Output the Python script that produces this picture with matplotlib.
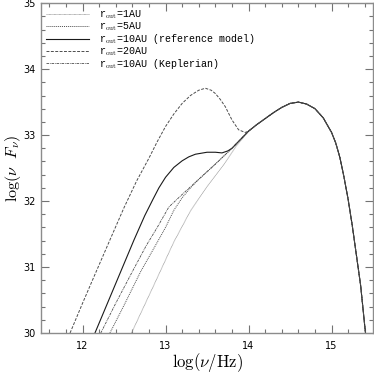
import matplotlib
matplotlib.use('Agg')
import matplotlib.pyplot as plt
from matplotlib.ticker import MultipleLocator
import numpy as np

plt.rcParams['mathtext.fontset'] = 'cm'

# common part of all SEDs (nu >= ~13)
tail_nu = [13.04, 13.2, 13.4, 13.6, 13.8, 13.9, 14.0, 14.1, 14.2, 14.3, 14.4, 14.5,
           14.6, 14.7, 14.8, 14.9, 15.0, 15.05, 15.1, 15.15, 15.2, 15.25, 15.3,
           15.35, 15.4, 15.43]
tail_f = [31.91, 32.1, 32.33, 32.56, 32.8, 32.93, 33.06, 33.16, 33.25, 33.34, 33.42, 33.48,
          33.50, 33.47, 33.40, 33.26, 33.04, 32.88, 32.66, 32.36, 32.02, 31.62, 31.17,
          30.72, 30.1, 29.75]

# r_out = 1 AU
nu_1 = [12.59, 12.85, 13.1, 13.3, 13.5, 13.7, 13.85, 14.0]
f_1 = [30.0, 30.7, 31.38, 31.85, 32.22, 32.55, 32.83, 33.06]

# r_out = 5 AU
nu_5 = [12.33, 12.5, 12.7, 12.88, 13.0, 13.1, 13.2, 13.3, 13.4]
f_5 = [30.0, 30.42, 30.93, 31.33, 31.6, 31.86, 32.05, 32.2, 32.33]

# r_out = 10 AU (reference model)
nu_10 = [12.15, 12.3, 12.45, 12.62, 12.75, 12.85, 12.92, 13.0, 13.1, 13.2, 13.28,
         13.36, 13.5, 13.6, 13.68, 13.75, 13.8]
f_10 = [30.0, 30.45, 30.9, 31.41, 31.78, 32.03, 32.2, 32.36, 32.51, 32.61, 32.67,
        32.71, 32.74, 32.74, 32.73, 32.76, 32.8]

# r_out = 20 AU
nu_20 = [11.85, 12.0, 12.13, 12.33, 12.5, 12.65, 12.8, 12.9, 13.0, 13.1, 13.2, 13.3,
         13.4, 13.48, 13.55, 13.6, 13.66, 13.72, 13.8, 13.88, 13.96, 14.0]
f_20 = [30.0, 30.45, 30.83, 31.41, 31.9, 32.3, 32.65, 32.9, 33.13, 33.32, 33.48, 33.6,
        33.68, 33.71, 33.68, 33.63, 33.54, 33.43, 33.23, 33.08, 33.04, 33.06]

# r_out = 10 AU (Keplerian)
nu_kep = [12.22, 12.4, 12.6, 12.77, 12.9, 13.04]
f_kep = [30.0, 30.45, 30.93, 31.33, 31.6, 31.91]


def with_tail(nu, f):
    nu = list(nu)
    f = list(f)
    for a, b in zip(tail_nu, tail_f):
        if a > nu[-1]:
            nu.append(a)
            f.append(b)
    return nu, f


fig = plt.figure(figsize=(3.74, 3.74), dpi=100)
ax = fig.add_axes([0.1096, 0.1096, 0.888, 0.882])

x, y = with_tail(nu_1, f_1)
ax.plot(x, y, color='0.6', ls=(0, (1, 0.5)), lw=0.6, label=r'r$_{\rm out}$=1AU')
x, y = with_tail(nu_5, f_5)
ax.plot(x, y, color='0.3', ls=(0, (1, 1)), lw=0.7, label=r'r$_{\rm out}$=5AU')
x, y = with_tail(nu_10, f_10)
ax.plot(x, y, color='0.1', ls='-', lw=0.8, label=r'r$_{\rm out}$=10AU (reference model)')
x, y = with_tail(nu_20, f_20)
ax.plot(x, y, color='0.3', ls=(0, (3, 1.5)), lw=0.7, label=r'r$_{\rm out}$=20AU')
x, y = with_tail(nu_kep, f_kep)
ax.plot(x, y, color='0.3', ls=(0, (3, 1, 1, 1)), lw=0.6, label=r'r$_{\rm out}$=10AU (Keplerian)')

ax.set_xlim(11.5, 15.5)
ax.set_ylim(30, 35)
ax.xaxis.set_major_locator(MultipleLocator(1))
ax.xaxis.set_minor_locator(MultipleLocator(0.2))
ax.yaxis.set_major_locator(MultipleLocator(1))
ax.yaxis.set_minor_locator(MultipleLocator(0.2))
ax.tick_params(which='both', direction='in', top=True, right=True, color='0.45',
               labelsize=7, width=0.8)
ax.tick_params(which='major', length=6)
ax.tick_params(which='minor', length=3)
ax.tick_params(axis='x', which='major', pad=6)
ax.tick_params(axis='y', which='major', pad=4)
for s in ax.spines.values():
    s.set_color('0.55')
    s.set_linewidth(1.0)

ax.set_xlabel(r'$\log(\nu/{\rm Hz})$', fontsize=12)
ax.set_ylabel(r'$\log(\nu\ \ F_\nu)$', fontsize=11.5)
ax.xaxis.set_label_coords(0.5, -0.055)
ax.yaxis.set_label_coords(-0.055, 0.5)

leg = ax.legend(loc='upper left', frameon=False, handlelength=4.3,
                handletextpad=1.0, labelspacing=-0.1, borderaxespad=0.15,
                prop={'family': 'Liberation Mono', 'size': 7.2})

plt.savefig('out.png', dpi=100)
